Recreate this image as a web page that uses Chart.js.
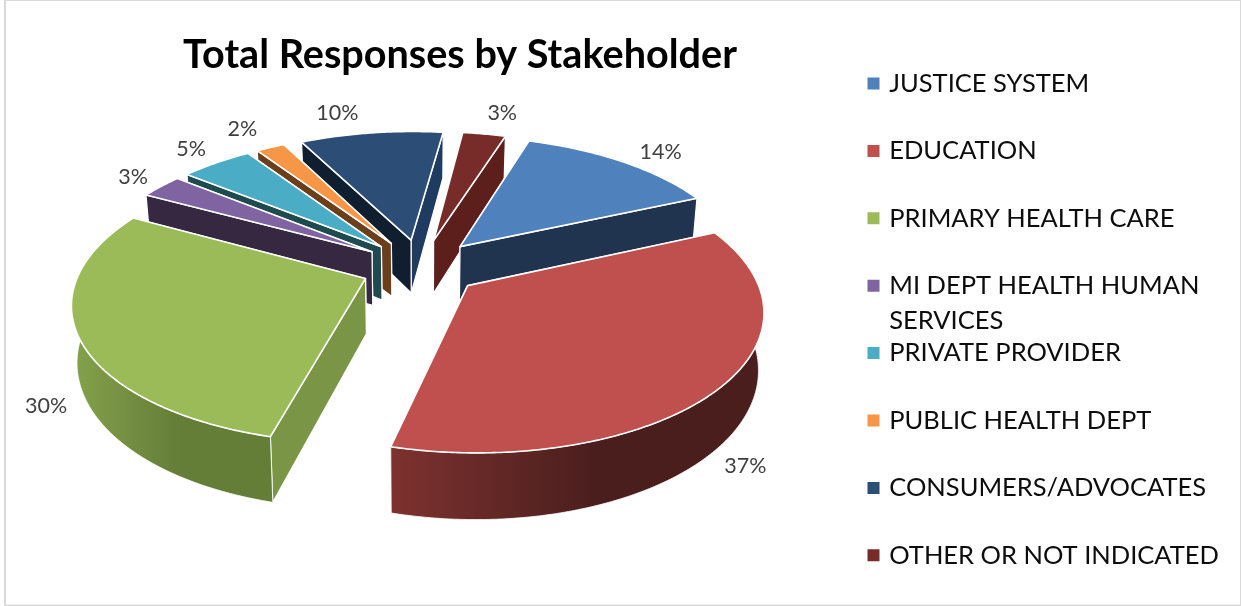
<!DOCTYPE html>
<html>
<head>
<meta charset="utf-8">
<style>html,body{margin:0;padding:0;background:#fff}canvas{display:block}</style>
<script src="https://cdn.jsdelivr.net/npm/chart.js@4"></script>
</head>
<body>
<canvas id="c" width="1241" height="606"></canvas>
<script>
const categories = ['JUSTICE SYSTEM','EDUCATION','PRIMARY HEALTH CARE',['MI DEPT HEALTH HUMAN','SERVICES'],'PRIVATE PROVIDER','PUBLIC HEALTH DEPT','CONSUMERS/ADVOCATES','OTHER OR NOT INDICATED'];
const percentages = [14,37,30,3,5,2,10,3];
const sliceColors = ['#4f81bd','#c0504d','#9bbb59','#8064a2','#4bacc6','#f79646','#2c4d75','#772c2a'];
const startWallColors = ['#20344f','#4a1e1d','#7a9546','#352840','#1f4a50','#6b3f1c','#101f30','#5c1f1c'];
const endWallColors = ['#20344f','#4a1e1d','#7a9546','#352840','#1f4a50','#6b3f1c','#1f3c60','#5c1f1c'];
const rimLeftColors = ['#20344f','#7d322f','#84a24c','#352840','#1f4a50','#6b3f1c','#101f30','#5c1f1c'];
const rimRightColors = ['#20344f','#4a1e1d','#647d37','#352840','#1f4a50','#6b3f1c','#101f30','#5c1f1c'];
const labelShiftX = [38,24,-33,-28,-25,-28,-34,18];
const labelShiftY = [-10,79,68,-9,-14,-18,-20,-21];

const FONT = 'Lato, Carlito, Calibri, sans-serif';
const view = {pers:.16, ax:.965, by:.454, drop:.185, taper:.016, explode:.21, cx:421, cy:267, radius:295};

function proj(arc,u,v,bottom){
  const R=arc.outerRadius, w=1-view.pers*v;
  return [arc.x+view.ax*R*u/w*(bottom?1-view.taper:1), arc.y+(view.by*R*v+(bottom?view.drop*R:0))/w];
}
function slicePoint(arc,a,r,bottom){
  const m=(arc.startAngle+arc.endAngle)/2;
  return proj(arc,view.explode*Math.cos(m)+r*Math.cos(a),view.explode*Math.sin(m)+r*Math.sin(a),bottom);
}
function polygon(ctx,pts,fill,line){
  ctx.beginPath();
  pts.forEach((p,i)=> i?ctx.lineTo(p[0],p[1]):ctx.moveTo(p[0],p[1]));
  ctx.closePath();
  ctx.fillStyle=fill; ctx.fill();
  ctx.strokeStyle='#fff'; ctx.lineWidth=line; ctx.lineJoin='round'; ctx.stroke();
}
function arcPoints(arc,bottom,from,to){
  const n=Math.max(6,Math.ceil((to-from)/0.01)), out=[];
  for(let i=0;i<=n;i++) out.push(slicePoint(arc,from+(to-from)*i/n,1,bottom));
  return out;
}
const pie3d = {
  id:'pie3d',
  beforeDraw(chart){
    const c=chart.ctx; c.save();
    c.fillStyle='#fff'; c.fillRect(0,0,chart.width,chart.height);
    c.strokeStyle='#d9d9d9'; c.lineWidth=2;
    c.strokeRect(5,0,chart.width-5,chart.height-0.5);
    c.restore();
  },
  afterLayout(chart){
    const a=chart.chartArea, h=120;
    a.left=view.cx-h; a.right=view.cx+h; a.top=view.cy-h; a.bottom=view.cy+h; a.width=a.height=2*h;
    const t=chart.titleBlock; t.left=0; t.right=2*460;
    const l=chart.legend, o=l.options.labels;
    l.left=870.5-o.padding; l.right=chart.width; l.top=83.5-o.font.size/2-o.padding; l.bottom=chart.height+200;
  },
  beforeDatasetDraw(chart){
    const c=chart.ctx, arcs=chart.getDatasetMeta(0).data;
    const order=arcs.map((a,i)=>i).sort((p,q)=>{
      const mp=(arcs[p].startAngle+arcs[p].endAngle)/2, mq=(arcs[q].startAngle+arcs[q].endAngle)/2;
      return Math.sin(mp)-Math.sin(mq);
    });
    c.save();
    order.forEach(i=>{
      const arc=arcs[i], s=arc.startAngle, e=arc.endAngle;
      const top=arcPoints(arc,false,s,e), bot=arcPoints(arc,true,s,e);
      const apexT=slicePoint(arc,0,0,false), apexB=slicePoint(arc,0,0,true);
      const first=top[0], last=top[top.length-1];
      const startWall=()=>polygon(c,[apexT,first,bot[0],apexB],startWallColors[i],1.2);
      const endWall=()=>polygon(c,[apexT,last,bot[bot.length-1],apexB],endWallColors[i],1.2);
      if(first[1]<last[1]){startWall();endWall();}else{endWall();startWall();}
      // outer rim: only the part of the arc that faces the viewer
      const tau=2*Math.PI; let from=null,to=null;
      for(let k=Math.ceil(s/tau-1);k<=Math.floor(e/tau)+1;k++){
        const lo=Math.max(s,k*tau+0.02), hi=Math.min(e,k*tau+Math.PI-0.02);
        if(hi>lo){from=lo;to=hi;}
      }
      if(from!==null){
        const rt=arcPoints(arc,false,from,to), rb=arcPoints(arc,true,from,to);
        const xs=rt.map(p=>p[0]), g=c.createLinearGradient(Math.min(...xs),0,Math.max(...xs),0);
        g.addColorStop(0,rimLeftColors[i]); g.addColorStop(.55,rimRightColors[i]); g.addColorStop(1,rimRightColors[i]);
        polygon(c,rt.concat(rb.slice().reverse()),g,0.8);
      }
      polygon(c,[apexT].concat(top),sliceColors[i],1.6);
    });
    c.font='21.5px '+FONT; c.fillStyle='#404040'; c.textAlign='center'; c.textBaseline='middle';
    arcs.forEach((arc,i)=>{
      const m=(arc.startAngle+arc.endAngle)/2, p=slicePoint(arc,m,1,false);
      c.fillText(percentages[i]+'%',p[0]+labelShiftX[i],p[1]+labelShiftY[i]);
    });
    c.restore();
    return false;
  },
  afterDraw(chart){
    // continuation lines of wrapped legend entries
    const c=chart.ctx, l=chart.legend, o=l.options.labels, size=o.font.size, lh=size*o.font.lineHeight;
    c.save();
    c.font=size+'px '+FONT; c.fillStyle=o.color; c.textAlign='left'; c.textBaseline='middle';
    categories.forEach((cat,i)=>{
      if(!Array.isArray(cat)) return;
      const y=l.top+o.padding+i*(size+o.padding)+size/2, x=l.left+o.padding+o.boxWidth+size/2;
      cat.slice(1).forEach((line,j)=>c.fillText(line,x,y+(j+1)*lh));
    });
    c.restore();
  }
};
new Chart(document.getElementById('c'),{
  type:'pie',
  data:{labels:categories,datasets:[{data:percentages,backgroundColor:sliceColors,borderColor:sliceColors,borderWidth:6}]},
  options:{
    responsive:false,animation:false,rotation:17.8,radius:view.radius,
    plugins:{
      tooltip:{enabled:false},
      title:{display:true,text:'Total Responses by Stakeholder',color:'#000',
        font:{family:FONT,size:39.6,weight:'bold',lineHeight:1.2},padding:{top:31,bottom:0}},
      legend:{position:'right',align:'start',
        labels:{color:'#0d0d0d',boxWidth:6,boxHeight:6,padding:41.9,font:{family:FONT,size:25.5,lineHeight:1.37},
          generateLabels(chart){
            return Chart.overrides.pie.plugins.legend.labels.generateLabels(chart)
              .map(it=>Object.assign(it,{text:Array.isArray(it.text)?it.text[0]:it.text}));
          }}}
    }
  },
  plugins:[pie3d]
});
</script>
</body>
</html>
